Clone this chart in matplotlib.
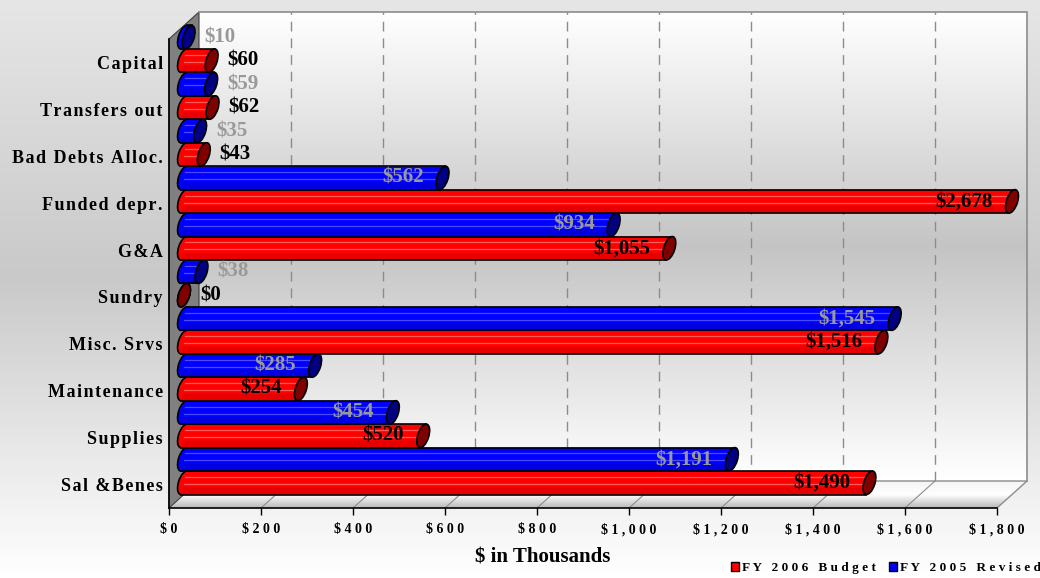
import numpy as np
import matplotlib
matplotlib.use('Agg')
import matplotlib.pyplot as plt
from matplotlib.patches import Polygon, Ellipse, Patch
from matplotlib.transforms import Affine2D, ScaledTranslation
from matplotlib.colors import LinearSegmentedColormap

# Expense categories, bottom to top
categories = ['Sal &Benes', 'Supplies', 'Maintenance', 'Misc. Srvs', 'Sundry',
              'G&A', 'Funded depr.', 'Bad Debts Alloc.', 'Transfers out', 'Capital']
budget_2006 = [1490, 520, 254, 1516, 0, 1055, 2678, 43, 62, 60]
revised_2005 = [1191, 454, 285, 1545, 38, 934, 562, 35, 59, 10]
x_ticks = [0, 200, 400, 600, 800, 1000, 1200, 1400, 1600, 1800]
series_names = ['FY 2006 Budget', 'FY 2005 Revised']

XMAX = 1800
SERIF = ['Liberation Serif', 'DejaVu Serif']

# figure size and the front face of the 3d box, in pixels
FW, FH = 1040, 578
L, B, W, H = 169, 70, 828, 469
DX, DY = 30, 27


def spaced(s, gap='\u2009'):
    return gap.join(s)


def vgrad(ax, extent, stops, clip=None, z=0):
    cmap = LinearSegmentedColormap.from_list('g', stops)
    grad = np.linspace(0, 1, 256).reshape(-1, 1)
    im = ax.imshow(grad, cmap=cmap, extent=extent, aspect='auto',
                   origin='upper', zorder=z, interpolation='bilinear')
    if clip is not None:
        im.set_clip_path(clip)
    return im


fig = plt.figure(figsize=(FW / 100, FH / 100), dpi=100)

# ---- background, walls and floor (pixel coords) ----
bg = fig.add_axes([0, 0, 1, 1], zorder=0)
bg.set_xlim(0, FW)
bg.set_ylim(0, FH)
bg.axis('off')

vgrad(bg, (0, FW, 0, FH), [(0, '#e6e6e6'), (0.48, '#c9c9c9'), (1, '#ffffff')])
vgrad(bg, (L + DX, L + DX + W, B + DY, B + DY + H),
      [(0, '#ffffff'), (0.5, '#c4c4c4'), (1, '#ffffff')], z=1)

floor = Polygon([(L, B), (L + W, B), (L + W + DX, B + DY), (L + DX, B + DY)],
                closed=True, transform=bg.transData)
vgrad(bg, (L, L + W + DX, B, B + DY), [(0, '#f4f4f4'), (0.5, '#ffffff'), (1, '#b8b8b8')],
      clip=floor, z=1)

bg.add_patch(Polygon([(L, B), (L, B + H), (L + DX, B + H + DY), (L + DX, B + DY)],
                     closed=True, fc='#808080', ec='#404040', lw=0.8, zorder=2))

bg.plot([L + DX, L + DX + W, L + DX + W], [B + DY + H, B + DY + H, B + DY],
        color='#8c8c8c', lw=1.2, zorder=2)
bg.plot([L + DX, L + DX + W, L + W], [B + DY, B + DY, B],
        color='#8c8c8c', lw=1.0, zorder=2)

# ---- main axes on the front face ----
n = len(categories)
ax = fig.add_axes([L / FW, B / FH, W / FW, H / FH], zorder=1)
ax.set_xlim(0, XMAX)
ax.set_ylim(0, n)
ax.patch.set_visible(False)
for s in ('top', 'right'):
    ax.spines[s].set_visible(False)
for s in ('left', 'bottom'):
    ax.spines[s].set_color('black')
    ax.spines[s].set_linewidth(1.2)

ax.set_xticks(x_ticks)
ax.set_xticklabels([spaced(f'${v:,}', ' ') for v in x_ticks])
ax.tick_params(axis='x', direction='out', length=5, width=1, pad=5.5)
ax.set_yticks(np.arange(n) + 0.5)
ax.set_yticklabels([spaced(c, '\u200a') for c in categories])
ax.tick_params(axis='y', length=0, pad=4.5)
for lbl in ax.get_xticklabels():
    lbl.set_fontfamily(SERIF)
    lbl.set_fontweight('bold')
    lbl.set_fontsize(10)
for lbl in ax.get_yticklabels():
    lbl.set_fontfamily(SERIF)
    lbl.set_fontweight('bold')
    lbl.set_fontsize(13)

kx = W / XMAX
ky = H / n
back = ax.transData + Affine2D().translate(DX, DY)

# dashed gridlines on the back wall and guide lines across the floor
ax.vlines(x_ticks[1:-1], 0, n, transform=back, colors='#8c8c8c',
          linestyles=(0, (7, 5)), lw=1, clip_on=False, zorder=0.5)
for v in x_ticks[1:-1]:
    ax.plot([v, v + DX / kx], [0, DY / ky], color='#8c8c8c', lw=0.8,
            clip_on=False, zorder=0.5)

# ---- cylinders ----
bar_h = 0.5
mid = Affine2D().translate(DX / 2, DY / 2)
cap_angle = -18
phi = np.radians(cap_angle)
half = bar_h * ky / 2
cb = 5.5
ca = np.sqrt((half ** 2 - cb ** 2 * np.sin(phi) ** 2) / np.cos(phi) ** 2)
tilt = (cb ** 2 - ca ** 2) * np.sin(phi) * np.cos(phi) / half
tu = tilt / kx

z = [2]


def nz():
    z[0] += 0.01
    return z[0]


def end_ellipse(x, yc, fc):
    tr = Affine2D().translate(DX / 2, DY / 2) + ScaledTranslation(x, yc, ax.transData)
    ax.add_patch(Ellipse((0, 0), 2 * cb, 2 * ca, angle=cap_angle, fc=fc,
                         ec='black', lw=1.2, transform=tr, clip_on=False,
                         zorder=nz()))


def cylinder(v, y0, body, light, dark, cap):
    x1 = min(v, XMAX)
    yc = y0 + bar_h / 2
    tr = ax.transData + mid
    end_ellipse(0, yc, body)

    def band(f0, f1, fc):
        pts = [(-tu + 2 * tu * f0, y0 + bar_h * f0), (x1 - tu + 2 * tu * f0, y0 + bar_h * f0),
               (x1 - tu + 2 * tu * f1, y0 + bar_h * f1), (-tu + 2 * tu * f1, y0 + bar_h * f1)]
        ax.add_patch(Polygon(pts, closed=True, fc=fc, ec='none', transform=tr,
                             clip_on=False, zorder=nz()))

    band(0, 1, body)
    band(0, 0.3, dark)
    for f in (0.45, 0.75):
        ax.plot([-tu + 2 * tu * f, x1 - tu + 2 * tu * f], [y0 + bar_h * f] * 2,
                color=light, lw=0.9, transform=tr, clip_on=False, zorder=nz())
    ax.plot([tu, x1 + tu], [y0 + bar_h] * 2, color='black', lw=1.2,
            transform=tr, clip_on=False, zorder=nz())
    ax.plot([-tu, x1 - tu], [y0] * 2, color='black', lw=1.2,
            transform=tr, clip_on=False, zorder=nz())
    end_ellipse(x1, yc, cap)


def value_label(v, yc, color):
    x1 = min(v, XMAX)
    if v >= 150:
        off, ha = DX / 2 - 19, 'right'
    else:
        off, ha = 31, 'left'
    ax.text(x1, yc, f'${v:,}', transform=ax.transData + Affine2D().translate(off, DY / 2),
            ha=ha, va='center', fontsize=15, fontweight='bold', family=SERIF,
            color=color, zorder=10)


for i in range(n):
    cylinder(budget_2006[i], i, '#ff0000', '#ff5a5a', '#e80000', '#800000')
    cylinder(revised_2005[i], i + bar_h, '#0000ff', '#4a4aff', '#0000e0', '#000080')

for i in range(n):
    value_label(budget_2006[i], i + bar_h / 2, 'black')
    value_label(revised_2005[i], i + bar_h * 1.5, '#999999')

fig.text(543 / FW, 20 / FH, '$ in Thousands', ha='center', va='center',
         fontsize=15, fontweight='bold', family=SERIF)

handles = [Patch(fc='#ff0000', ec='black', lw=1), Patch(fc='#0000ff', ec='black', lw=1)]
fig.legend(handles, [spaced(s, ' ') for s in series_names], loc='lower right',
           bbox_to_anchor=(1.012, -0.014), ncol=2, frameon=False,
           handlelength=0.6, handleheight=0.6, handletextpad=0.2,
           columnspacing=1.0, prop={'family': SERIF, 'weight': 'bold', 'size': 9.5})

fig.savefig('out.png', dpi=100)
